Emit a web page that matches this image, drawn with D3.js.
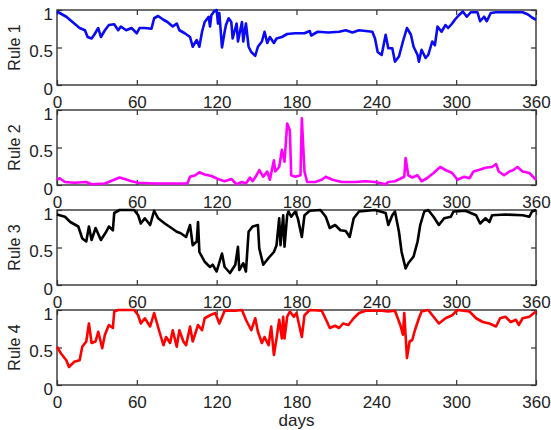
<!DOCTYPE html>
<html>
<head>
<meta charset="utf-8">
<script src="https://cdn.jsdelivr.net/npm/d3@7"></script>
<style>
  html, body { margin: 0; padding: 0; background: #fff; }
  text { font-family: "Liberation Sans", Arial, sans-serif; fill: #222; }
</style>
</head>
<body>
<div id="chart"></div>
<script>
// Datos (día, valor)
const rule1Days = [0,7,13,17,21,23,26,28,31,33,36,39,43,46,48,52,56,60,62,66,71,73,76,80,83,87,90,92,96,100,102,105,107,109,111,114,115,116,118,120,121,122,124,126,127,129,131,132,135,136,139,140,142,144,146,149,151,154,156,158,160,163,165,169,173,179,186,190,191,196,204,212,217,222,227,232,237,239,241,244,247,249,252,254,257,260,263,266,268,271,272,274,277,279,282,284,286,289,292,294,297,299,302,305,308,311,316,318,321,323,326,330,350,354,357,360];
const rule1Vals = [0.98,0.91,0.82,0.76,0.73,0.64,0.62,0.67,0.76,0.64,0.73,0.80,0.81,0.73,0.78,0.73,0.76,0.69,0.76,0.76,0.75,0.89,0.92,0.87,0.84,0.78,0.82,0.73,0.69,0.64,0.51,0.60,0.51,0.71,0.84,0.91,0.78,0.93,0.98,1.0,0.82,0.96,0.50,0.71,0.80,0.89,0.84,0.62,0.82,0.58,0.84,0.58,0.82,0.51,0.44,0.39,0.51,0.58,0.71,0.56,0.64,0.56,0.62,0.64,0.68,0.69,0.69,0.72,0.66,0.71,0.70,0.71,0.73,0.70,0.73,0.72,0.71,0.62,0.44,0.40,0.67,0.49,0.49,0.31,0.38,0.58,0.76,0.67,0.51,0.40,0.31,0.47,0.36,0.40,0.58,0.53,0.78,0.71,0.80,0.76,0.82,0.87,0.93,0.98,0.91,0.97,0.97,0.85,0.91,0.85,0.96,0.97,0.97,0.94,0.90,0.87];

const rule2Days = [0,2,6,13,22,26,36,43,47,51,56,61,73,86,98,100,104,107,111,116,121,126,131,135,139,142,145,147,150,152,155,158,160,163,164,167,169,171,173,175,176,179,183,184,186,188,194,199,202,207,214,224,232,239,247,249,254,261,262,264,267,271,274,278,283,288,292,297,301,306,310,313,317,322,327,330,332,336,340,343,346,350,355,360];
const rule2Vals = [0.07,0.09,0.04,0.03,0.04,0.01,0.02,0.07,0.10,0.08,0.05,0.03,0.02,0.02,0.02,0.11,0.13,0.17,0.14,0.12,0.08,0.05,0.08,0.01,0.04,0.02,0.10,0.05,0.13,0.20,0.11,0.18,0.07,0.33,0.18,0.24,0.47,0.31,0.82,0.73,0.13,0.11,0.13,0.89,0.18,0.04,0.04,0.07,0.11,0.07,0.04,0.04,0.05,0.04,0.01,0.04,0.05,0.11,0.36,0.13,0.10,0.13,0.05,0.09,0.16,0.24,0.20,0.16,0.07,0.11,0.09,0.18,0.20,0.23,0.24,0.28,0.18,0.13,0.18,0.20,0.24,0.18,0.16,0.07];

const rule3Days = [0,6,10,16,19,22,24,26,29,33,37,39,42,43,47,58,61,63,66,70,73,76,81,86,90,93,97,100,102,105,106,107,111,115,117,120,124,126,130,134,136,137,140,142,144,147,151,152,155,159,163,165,167,168,170,171,173,174,176,179,181,184,186,190,198,202,205,209,213,217,220,223,227,239,247,249,252,254,257,259,262,264,268,271,273,276,279,283,287,291,296,298,307,315,318,322,325,327,337,350,355,357,360];
const rule3Vals = [0.94,0.91,0.84,0.78,0.62,0.58,0.78,0.60,0.76,0.60,0.71,0.78,0.73,0.96,1.0,1.0,0.93,0.82,0.89,0.80,0.99,0.89,0.82,0.76,0.71,0.69,0.64,0.80,0.53,0.58,0.84,0.44,0.31,0.24,0.27,0.18,0.42,0.24,0.16,0.27,0.51,0.20,0.29,0.18,0.71,0.78,0.80,0.49,0.27,0.36,0.44,0.53,0.89,0.53,0.93,0.51,0.93,0.98,0.91,0.98,0.89,0.64,0.93,0.99,1.0,0.91,0.76,0.80,0.73,0.72,0.64,0.89,0.98,1.0,0.96,0.80,0.93,0.98,0.71,0.44,0.22,0.29,0.38,0.58,0.80,0.98,1.0,0.91,0.80,0.89,0.91,0.98,0.99,0.93,0.82,0.89,0.84,0.93,0.94,0.93,0.91,0.98,1.0];

const rule4Days = [0,3,7,9,13,17,19,22,24,26,29,31,34,36,39,42,43,46,58,61,63,66,70,73,77,80,82,85,87,90,92,95,97,100,102,106,109,111,115,119,122,126,134,139,142,146,149,151,154,156,159,161,163,165,167,169,170,171,173,175,178,180,184,186,190,199,203,205,209,212,215,219,223,227,232,244,249,254,258,260,261,263,265,267,269,272,274,279,283,287,292,297,301,310,315,320,325,330,333,337,341,345,347,350,355,360];
const rule4Vals = [0.51,0.42,0.33,0.24,0.31,0.33,0.51,0.58,0.82,0.56,0.58,0.71,0.49,0.67,0.80,0.76,0.98,1.0,1.0,0.93,0.82,0.89,0.78,0.96,0.71,0.53,0.64,0.56,0.73,0.51,0.73,0.58,0.53,0.78,0.58,0.80,0.73,0.89,0.93,0.96,0.82,0.99,0.99,1.0,0.87,0.73,0.89,0.71,0.56,0.64,0.53,0.78,0.40,0.62,0.87,0.62,0.91,0.62,0.91,0.98,0.91,0.96,0.64,0.93,1.0,0.99,0.84,0.76,0.79,0.76,0.82,0.80,0.89,0.96,0.99,0.99,0.98,0.99,0.80,0.67,0.96,0.36,0.58,0.60,0.73,0.89,0.98,1.0,0.91,0.82,0.89,0.93,1.0,0.98,0.89,0.84,0.82,0.78,0.89,0.91,0.84,0.87,0.80,0.89,0.91,0.98];

const ruleNames = ['Rule 1', 'Rule 2', 'Rule 3', 'Rule 4'];
const ruleColors = ['#0a0af5', '#ff00ff', '#000000', '#ff0000'];
const ruleDays = [rule1Days, rule2Days, rule3Days, rule4Days];
const ruleVals = [rule1Vals, rule2Vals, rule3Vals, rule4Vals];
const xTicks = [0, 60, 120, 180, 240, 300, 360];
const yTicks = [0, 0.5, 1];

// Configuración
const W = 551, H = 430;
const left = 57, plotW = 479;
const panelTop = [10, 110, 210, 310];
const plotH = 75;
const tickLen = 5;

const svg = d3.select('#chart')
	.append('svg')
	.attr('width', W)
	.attr('height', H);

const x = d3.scaleLinear().domain([0, 360]).range([0, plotW]);
const y = d3.scaleLinear().domain([0, 1]).range([plotH, 0]);

ruleNames.forEach((name, i) => {
	const g = svg.append('g')
		.attr('transform', `translate(${left},${panelTop[i]})`);

	// ejes con ticks hacia dentro
	const xb = g.append('g')
		.attr('transform', `translate(0,${plotH})`)
		.call(d3.axisBottom(x).tickValues(xTicks).tickSize(-tickLen).tickPadding(tickLen + 6).tickFormat(d3.format('d')));
	const xt = g.append('g')
		.call(d3.axisTop(x).tickValues(xTicks).tickSize(-tickLen).tickFormat(''));
	const yl = g.append('g')
		.call(d3.axisLeft(y).tickValues(yTicks).tickSize(-tickLen).tickPadding(tickLen + 4).tickFormat(d3.format('')));
	const yr = g.append('g')
		.attr('transform', `translate(${plotW},0)`)
		.call(d3.axisRight(y).tickValues(yTicks).tickSize(-tickLen).tickFormat(''));

	[xb, xt, yl, yr].forEach((a) => {
		a.select('.domain').remove();
		a.selectAll('line').attr('stroke', '#333').attr('stroke-width', 1.2);
		a.selectAll('text').style('font-size', '17px').attr('fill', '#222');
	});
	yl.selectAll('text').attr('dy', '0.55em').attr('x', -4);

	// marco
	g.append('rect')
		.attr('width', plotW)
		.attr('height', plotH)
		.attr('fill', 'none')
		.attr('stroke', '#333')
		.attr('stroke-width', 1.4);

	const pts = ruleDays[i].map((d, k) => [d, ruleVals[i][k]]);
	const line = d3.line()
		.x((d) => x(d[0]))
		.y((d) => y(Math.min(1, d[1])));

	g.append('path')
		.datum(pts)
		.attr('fill', 'none')
		.attr('stroke', ruleColors[i])
		.attr('stroke-width', 2.6)
		.attr('stroke-linejoin', 'round')
		.attr('d', line);

	svg.append('text')
		.attr('transform', `translate(20,${panelTop[i] + plotH / 2}) rotate(-90)`)
		.attr('text-anchor', 'middle')
		.style('font-size', '16px')
		.text(name);
});

svg.append('text')
	.attr('x', left + plotW / 2)
	.attr('y', 426)
	.attr('text-anchor', 'middle')
	.style('font-size', '17px')
	.text('days');
</script>
</body>
</html>
